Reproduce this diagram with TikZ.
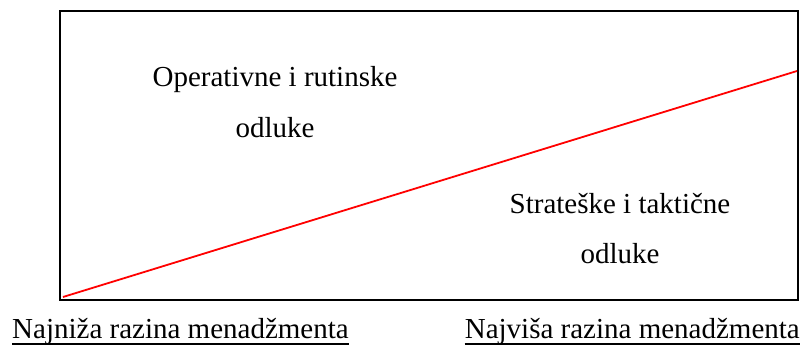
\documentclass[tikz,border=0pt]{standalone}
\usepackage{fontspec}
\setmainfont{Liberation Serif}
\begin{document}
\begin{tikzpicture}[x=1pt,y=-1pt,
  lbl/.style={inner sep=0pt,font=\fontsize{29}{34}\selectfont},
  frame/.style={draw=black,line width=1.8pt},
  diag/.style={draw=red,line width=1.8pt},
  uline/.style={draw=black,line width=1.3pt}]
\useasboundingbox (0,0) rectangle (801,347);
\node[frame,minimum width=738pt,minimum height=289pt,inner sep=0pt,anchor=north west] (box) at (59,10) {};
\coordinate (ls) at (63,297);
\coordinate (le) at (797,71);
\draw[diag] (ls) -- (le);
\node[lbl,anchor=base] (op1) at (275,87) {Operativne i rutinske};
\node[lbl,anchor=base] (op2) at (275,138) {odluke};
\node[lbl,anchor=base] (st1) at (620,214) {Strateške i taktične};
\node[lbl,anchor=base] (st2) at (620,264) {odluke};
\node[lbl,anchor=base west] (low) at (12,339) {Najniža razina menadžmenta};
\node[lbl,anchor=base east] (high) at (800,339) {Najviša razina menadžmenta};
\draw[uline] ([yshift=-5pt]low.base west) -- ([yshift=-5pt]low.base east);
\draw[uline] ([yshift=-5pt]high.base west) -- ([yshift=-5pt]high.base east);
\end{tikzpicture}
\end{document}
